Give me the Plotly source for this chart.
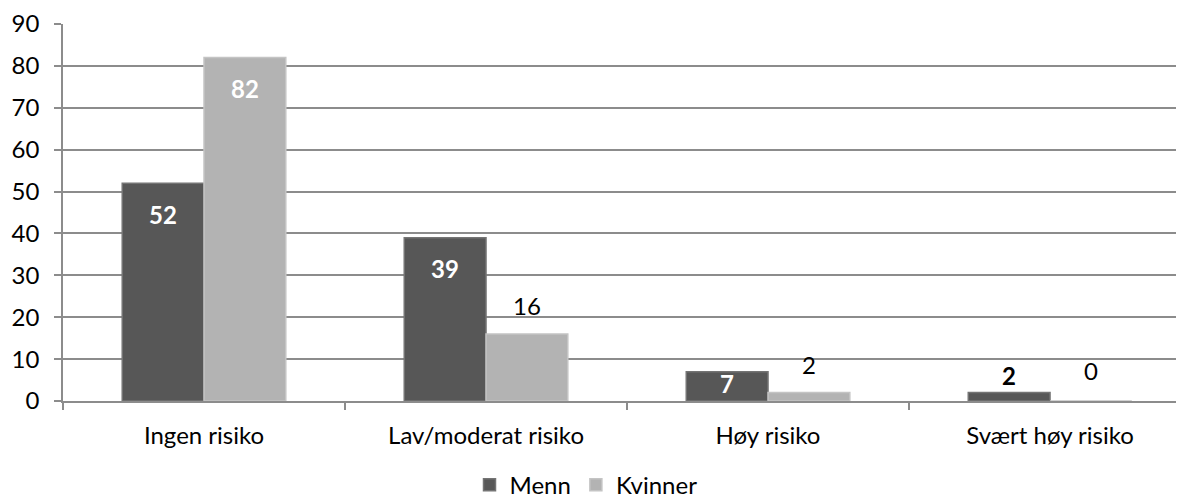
import plotly.graph_objects as go

categories = ["Ingen risiko", "Lav/moderat risiko", "Høy risiko", "Svært høy risiko"]
menn = [52, 39, 7, 2]
kvinner = [82, 16, 2, 0]
menn_label_pos = ["inside", "inside", "inside", "outside"]
kvinner_label_pos = ["inside", "outside", "outside", "outside"]
y_ticks = [0, 10, 20, 30, 40, 50, 60, 70, 80, 90]

FONT = "Lato"
FS = 24
MENN_COLOR = "#575757"
KVINNER_COLOR = "#b3b3b3"

fig = go.Figure()
fig.add_trace(go.Bar(
    name="Menn", x=categories, y=menn,
    marker=dict(color=MENN_COLOR, line=dict(color="#747474", width=1.5)),
))
fig.add_trace(go.Bar(
    name="Kvinner", x=categories, y=kvinner,
    marker=dict(color=KVINNER_COLOR, line=dict(color="#c4c4c4", width=1.5)),
))

# data labels as annotations anchored to the bars
BAR_OFFSET = 41
annotations = []
for vals, pos, side, bold_out in ((menn, menn_label_pos, -1, True), (kvinner, kvinner_label_pos, 1, False)):
    for cat, v, p in zip(categories, vals, pos):
        if p == "inside":
            shift = -31 if v > 10 else -12
            annotations.append(dict(
                x=cat, y=v, xref="x", yref="y", text=f"<b>{v}</b>", showarrow=False,
                xshift=side * BAR_OFFSET, yshift=shift,
                font=dict(family=FONT, size=FS, color="white"),
            ))
        else:
            shift = 17 if bold_out else 28
            txt = f"<b>{v}</b>" if bold_out else str(v)
            annotations.append(dict(
                x=cat, y=v, xref="x", yref="y", text=txt, showarrow=False,
                xshift=side * BAR_OFFSET, yshift=shift + (3 if v == 0 else 0),
                font=dict(family=FONT, size=FS, color="black"),
            ))

# the page body has an 8px margin, so the figure is sized to the rest of the window;
# the last category runs past the right edge of the picture, as in the reference
fig.update_layout(
    template="none",
    barmode="group",
    bargap=0.42,
    bargroupgap=0,
    width=1176, height=493,
    margin=dict(l=55, r=0, t=16, b=100, autoexpand=False),
    paper_bgcolor="white",
    plot_bgcolor="white",
    font=dict(family=FONT, size=FS, color="black"),
    annotations=annotations,
    legend=dict(
        orientation="h", xref="container", yref="container",
        x=0.4915, xanchor="center", y=0.032, yanchor="middle",
        font=dict(family=FONT, size=FS, color="black"),
        itemwidth=30, bgcolor="rgba(0,0,0,0)",
    ),
    yaxis=dict(
        range=[0, 90], tickvals=y_ticks, showgrid=True,
        gridcolor="#8c8c8c", gridwidth=1.5,
        showline=True, linecolor="#8c8c8c", linewidth=1.5,
        ticks="outside", ticklen=7, tickcolor="#8c8c8c", tickwidth=1.5,
        ticklabelstandoff=10, automargin=False,
        zeroline=False,
    ),
    xaxis=dict(
        range=[-0.5, 3.475],
        showline=True, linecolor="#8c8c8c", linewidth=1.5,
        ticks="outside", tickson="boundaries", ticklen=7, tickcolor="#8c8c8c", tickwidth=1.5,
        ticklabelstandoff=12, automargin=False,
        showgrid=False,
    ),
)

fig.write_html("out.html")
